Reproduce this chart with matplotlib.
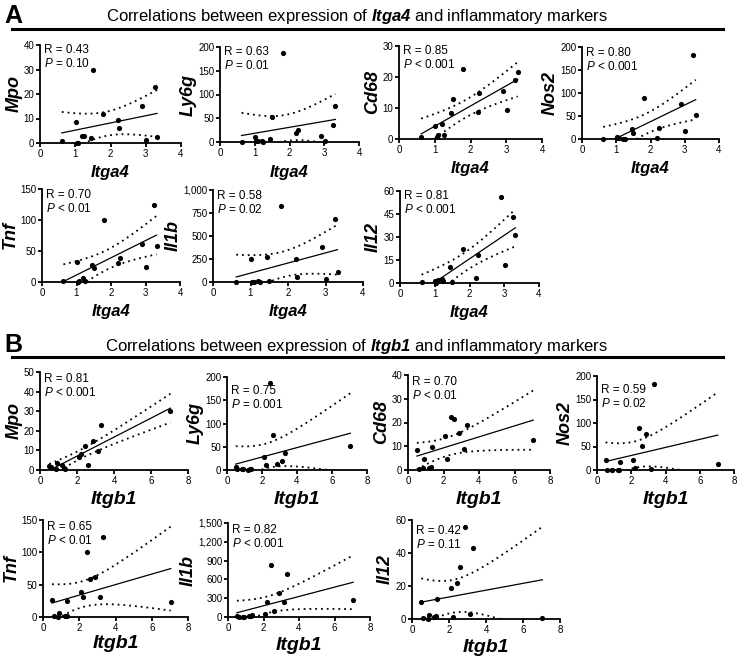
import matplotlib
matplotlib.use("Agg")
import matplotlib.pyplot as plt
import matplotlib.ticker as mticker
import numpy as np

plt.rcParams['font.family'] = ['Liberation Sans', 'DejaVu Sans']
plt.rcParams['mathtext.fontset'] = 'custom'
plt.rcParams['mathtext.rm'] = 'Liberation Sans'
plt.rcParams['mathtext.it'] = 'Liberation Sans:italic'
plt.rcParams['mathtext.bf'] = 'Liberation Sans:bold'
plt.rcParams['mathtext.bfit'] = 'Liberation Sans:bold:italic'

# Itga4 expression (shared x for panel A)
itga4 = [0.62, 1.02, 1.05, 1.08, 1.2, 1.25, 1.45, 1.5, 1.8, 2.2, 2.25, 2.9, 3.02, 3.25, 3.32]
a_mpo = [1, 8.5, 0, 0, 3, 2.8, 2, 30, 12, 9.5, 6.3, 15, 1.3, 22.7, 2.5]
a_ly6g = [1, 10, 3, 2, 3, 1, 7, 52, 188, 20, 25, 12, 3, 36, 75]
a_cd68 = [0.6, 4.3, 0.8, 1.3, 4.8, 1.2, 8.5, 13, 22.5, 8.8, 14.8, 15.5, 9.5, 19, 21.5]
a_nos2 = [0, 5, 2, 2, 1, 1, 22, 13, 90, 3, 23, 77, 18, 182, 52]
a_tnf = [1, 32, 0, 1, 6, 1, 27, 23, 100, 31, 38, 62, 24, 124, 58]
a_il1b = [0, 245, 0, 3, 10, 5, 270, 15, 825, 245, 50, 378, 30, 680, 110]
a_il12 = [0.5, 1.5, 0, 2, 2.5, 1, 10.5, 0.5, 22, 3, 18.5, 56, 12, 43, 31.5]

# Itgb1 expression (shared x for panel B)
itgb1 = [0.5, 0.6, 0.85, 0.9, 1.2, 1.3, 1.35, 2.1, 2.2, 2.45, 2.6, 2.85, 3.15, 3.3, 7.05]
b_mpo = [2, 1.5, 0.3, 3.5, 2.5, 1, 0.5, 6.5, 8, 12, 2.5, 15, 9.5, 23, 30]
b_ly6g = [7, 2, 3, 3, 1, 3, 3, 27, 10, 188, 75, 12, 20, 37, 52]
b_cd68 = [8.5, 0.5, 0.8, 4.8, 1, 1.2, 9.5, 14.5, 4.5, 22.5, 21.5, 15.5, 8.8, 19, 12.8]
b_nos2 = [22, 0, 0, 0, 0, 0, 18, 22, 5, 90, 52, 77, 3, 182, 13]
b_tnf = [26, 1, 0, 6, 1, 1, 24, 39, 31, 100, 58, 62, 31, 124, 23]
b_il1b = [15, 5, 5, 5, 10, 10, 25, 50, 245, 825, 100, 378, 245, 680, 270]
b_il12 = [10.5, 0.5, 0, 2.5, 1.5, 2, 12, 18.5, 1.5, 22, 31.5, 56, 3, 43, 0.5]

markers = ['Mpo', 'Ly6g', 'Cd68', 'Nos2', 'Tnf', 'Il1b', 'Il12']
a_values = [a_mpo, a_ly6g, a_cd68, a_nos2, a_tnf, a_il1b, a_il12]
b_values = [b_mpo, b_ly6g, b_cd68, b_nos2, b_tnf, b_il1b, b_il12]
a_r = ['0.43', '0.63', '0.85', '0.80', '0.70', '0.58', '0.81']
a_p = ['= 0.10', '= 0.01', '< 0.001', '< 0.001', '< 0.01', '= 0.02', '< 0.001']
b_r = ['0.81', '0.75', '0.70', '0.59', '0.65', '0.82', '0.42']
b_p = ['< 0.001', '= 0.001', '< 0.01', '= 0.02', '< 0.01', '< 0.001', '= 0.11']
a_ymax = [40, 200, 30, 200, 150, 1000, 60]
a_ystep = [10, 50, 10, 50, 50, 250, 15]
b_ymax = [50, 200, 40, 200, 150, 1500, 60]
b_ystep = [10, 50, 10, 50, 50, 300, 20]

W, H = 740, 661
# pixel boxes: left, right, top, bottom (x-axis line)
a_boxes = [(40, 181, 45, 143), (220, 359, 47, 142), (399, 542, 46, 139), (582, 719, 47, 139),
           (42, 180, 189, 282), (213, 363, 190, 282), (400, 539, 191, 283)]
b_boxes = [(40, 188, 372, 470), (227, 367, 377, 470), (408, 550, 375, 470), (597, 734, 376, 470),
           (43, 188, 520, 617), (228, 370, 523, 617), (412, 560, 520, 619)]
a_txt_off = [7, 7, 7, 8, 8, 8, 7]
b_txt_off = [9, 16, 9, 16, 9, 9, 13]
a_xlab_off = [30, 30, 30, 30, 30, 30, 30]
b_xlab_off = [30, 30, 30, 30, 27, 28, 28]

T95 = {11: 2.201, 12: 2.179, 13: 2.160, 14: 2.145, 15: 2.131}

fig = plt.figure(figsize=(W / 100, H / 100), dpi=100)


def fit_band(x, y):
    x = np.asarray(x, float)
    y = np.asarray(y, float)
    n = len(x)
    slope, icpt = np.polyfit(x, y, 1)
    res = y - (slope * x + icpt)
    s = np.sqrt(np.sum(res ** 2) / (n - 2))
    xm = x.mean()
    sxx = np.sum((x - xm) ** 2)
    xs = np.linspace(x.min(), x.max(), 100)
    ys = slope * xs + icpt
    half = T95[n - 2] * s * np.sqrt(1 / n + (xs - xm) ** 2 / sxx)
    return xs, ys, ys - half, ys + half


def panel(box, x, y, name, gene, r, p, ymax, ystep, xmax, xstep, txt_off, xlab_off, xlab_size):
    l, rr, t, b = box
    ax = fig.add_axes([l / W, 1 - b / H, (rr - l) / W, (b - t) / H])
    ax.set_xlim(0, xmax)
    ax.set_ylim(0, ymax)
    xs, ys, lo, hi = fit_band(x, y)
    ax.plot(xs, ys, color='black', lw=0.9)
    ax.plot(xs, lo, color='black', lw=1.3, ls=(0, (1, 2.2)))
    ax.plot(xs, hi, color='black', lw=1.3, ls=(0, (1, 2.2)))
    ax.scatter(x, y, s=14, color='black', zorder=3, clip_on=False, linewidths=0)
    for sp in ['top', 'right']:
        ax.spines[sp].set_visible(False)
    for sp in ['left', 'bottom']:
        ax.spines[sp].set_linewidth(1.3)
    ax.set_xticks(np.arange(0, xmax + 0.01, xstep))
    ax.set_yticks(np.arange(0, ymax + 0.01, ystep))
    ax.yaxis.set_major_formatter(mticker.FuncFormatter(lambda v, pos: f"{int(v):,}"))
    ax.xaxis.set_major_formatter(mticker.FuncFormatter(lambda v, pos: f"{int(v)}"))
    ax.tick_params(width=1.3, length=3, labelsize=7, pad=1)
    ax.annotate(f"R = {r}\n$\\mathit{{P}}$ {p}", xy=(0, 1), xycoords='axes fraction',
                xytext=(3, -txt_off * 0.72 + 6), textcoords='offset points',
                ha='left', va='top', fontsize=8.5, linespacing=1.15)
    ax.set_ylabel(name, fontsize=13, fontweight='bold', fontstyle='italic', labelpad=1)
    ax.text(0.5, -xlab_off / (b - t), gene, transform=ax.transAxes,
            ha='center', va='center', fontsize=xlab_size, fontweight='bold', fontstyle='italic')
    return ax


for i in range(7):
    panel(a_boxes[i], itga4, a_values[i], markers[i], 'Itga4', a_r[i], a_p[i],
          a_ymax[i], a_ystep[i], 4, 1, a_txt_off[i], a_xlab_off[i], 12)
    panel(b_boxes[i], itgb1, b_values[i], markers[i], 'Itgb1', b_r[i], b_p[i],
          b_ymax[i], b_ystep[i], 8, 2, b_txt_off[i], b_xlab_off[i], 14)

# section headers
for letter, gene, ytxt, yline in [('A', 'Itga4', 17, 29), ('B', 'Itgb1', 346, 357)]:
    fig.text(4 / W, 1 - (ytxt - 1) / H, letter, fontsize=18, fontweight='bold', ha='left', va='center')
    fig.text(357 / W, 1 - ytxt / H,
             f"Correlations between expression of $\\mathbfit{{{gene}}}$ and inflammatory markers",
             fontsize=12, ha='center', va='center')
    fig.add_artist(plt.Line2D([12 / W, 723 / W], [1 - yline / H, 1 - yline / H],
                              color='black', lw=2.2, transform=fig.transFigure))

fig.savefig('out.png', dpi=100)
